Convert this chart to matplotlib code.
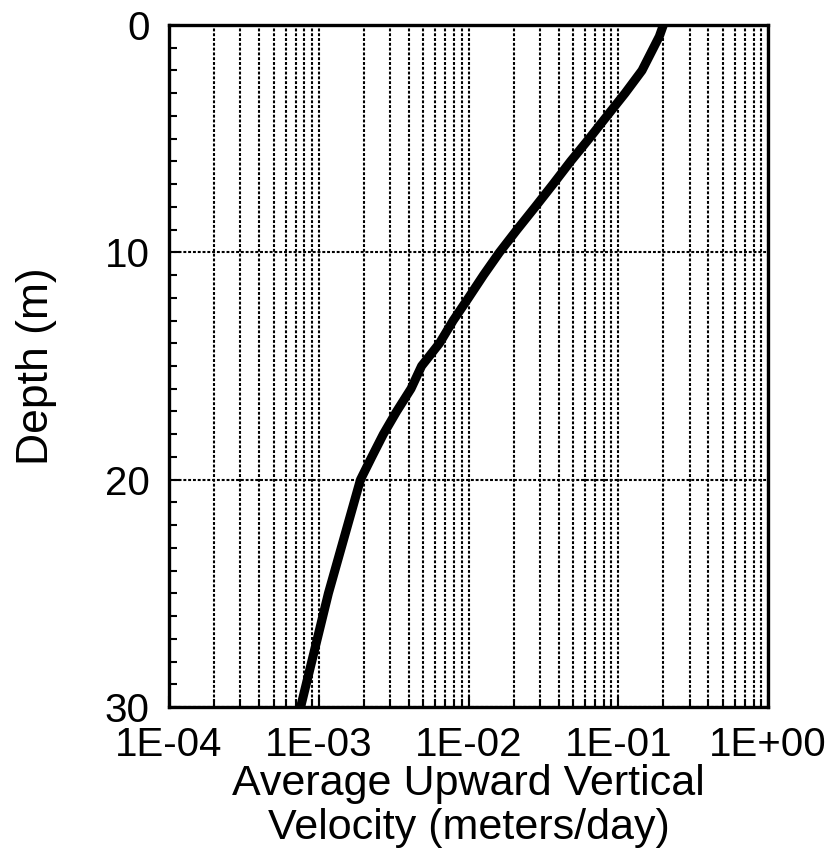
import numpy as np
import matplotlib
matplotlib.use("Agg")
import matplotlib.pyplot as plt
from matplotlib.ticker import LogLocator, FixedLocator, MultipleLocator, NullFormatter

# depth profile (m) and velocity (m/day)
depth = [0, 0.5, 1, 2, 3, 4, 5, 6, 7, 8, 9, 10, 11, 12, 13, 14, 15,
         16, 17, 18, 19, 20, 25, 30]
velocity = [0.200, 0.188, 0.172, 0.144, 0.111, 0.0841, 0.0638, 0.0480, 0.0367,
            0.0279, 0.0211, 0.0161, 0.0126, 0.0100, 0.0079, 0.0064, 0.00486,
            0.00413, 0.00331, 0.00270, 0.00226, 0.00190, 0.00116, 0.000757]

x_ticks = [1e-4, 1e-3, 1e-2, 1e-1, 1e0]
x_ticklabels = ["1E-04", "1E-03", "1E-02", "1E-01", "1E+00"]
y_ticks = [0, 10, 20, 30]

plt.rcParams['font.family'] = ['Liberation Sans', 'DejaVu Sans']

fig = plt.figure(figsize=(8.37, 8.63), dpi=100)
ax = fig.add_axes([0.2019, 0.1808, 0.9176 - 0.2019, 0.971 - 0.1808])

ax.plot(velocity, depth, color='black', lw=6.5, zorder=3)

ax.set_xscale('log')
ax.set_xlim(1e-4, 1e0)
ax.set_ylim(30, 0)

ax.xaxis.set_major_locator(FixedLocator(x_ticks))
ax.set_xticklabels(x_ticklabels)
ax.xaxis.set_minor_locator(LogLocator(base=10, subs=np.arange(2, 10)))
ax.xaxis.set_minor_formatter(NullFormatter())
ax.yaxis.set_major_locator(FixedLocator(y_ticks))
ax.yaxis.set_minor_locator(MultipleLocator(1))

dots = (0, (1.4, 0.9))
ax.grid(True, axis='x', which='both', color='black', lw=1.5, linestyle=dots)
ax.grid(True, axis='y', which='major', color='black', lw=1.5, linestyle=dots)

ax.tick_params(axis='both', which='both', direction='in', top=False, right=False,
               width=1.5, labelsize=29)
ax.tick_params(axis='both', which='major', length=8, pad=14)
ax.tick_params(axis='both', which='minor', length=6)

for s in ax.spines.values():
    s.set_linewidth(2.4)

ax.set_xlabel("Average Upward Vertical\nVelocity (meters/day)", fontsize=31,
              labelpad=0, linespacing=1.1)
ax.set_ylabel("Depth (m)", fontsize=32, labelpad=34)

fig.savefig("out.png", dpi=100)
